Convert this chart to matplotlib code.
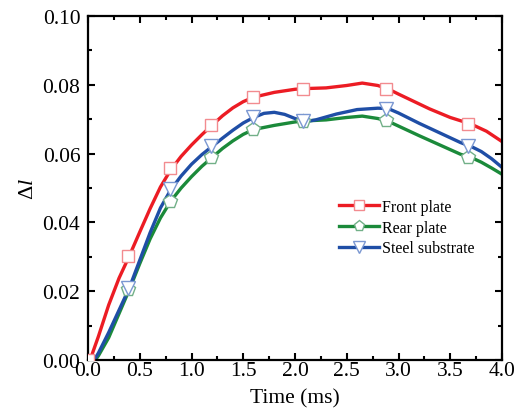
import matplotlib
matplotlib.use('Agg')
import matplotlib.pyplot as plt
from matplotlib.lines import Line2D

plt.rcParams['font.family'] = 'Liberation Serif'
plt.rcParams['mathtext.fontset'] = 'custom'
plt.rcParams['mathtext.rm'] = 'Liberation Serif'
plt.rcParams['mathtext.it'] = 'Liberation Serif:italic'

# curves
front_t = [0.02, 0.1, 0.2, 0.3, 0.4, 0.5, 0.6, 0.7, 0.8, 0.9, 1.0, 1.1, 1.2, 1.3, 1.4, 1.5, 1.6,
           1.8, 2.0, 2.1, 2.3, 2.5, 2.65, 2.8, 2.9, 3.0, 3.3, 3.5, 3.7, 3.85, 4.0]
front_d = [0.0, 0.0068, 0.0160, 0.0238, 0.0303, 0.0372, 0.0440, 0.0503, 0.0553, 0.0592, 0.0625,
           0.0655, 0.0683, 0.0710, 0.0733, 0.0751, 0.0764, 0.0778, 0.0787, 0.0789, 0.0791,
           0.0798, 0.0805, 0.0798, 0.0788, 0.0773, 0.0730, 0.0705, 0.0686, 0.0665, 0.0635]

steel_t = [0.06, 0.1, 0.2, 0.3, 0.4, 0.5, 0.6, 0.7, 0.8, 0.9, 1.0, 1.1, 1.2, 1.3, 1.4, 1.5, 1.6,
           1.7, 1.8, 1.9, 2.0, 2.1, 2.2, 2.4, 2.6, 2.8, 2.9, 3.0, 3.2, 3.4, 3.6, 3.7, 3.8, 3.9, 4.0]
steel_d = [0.0, 0.002, 0.008, 0.0145, 0.021, 0.029, 0.037, 0.0442, 0.0495, 0.0535, 0.0569,
           0.0597, 0.0621, 0.0645, 0.0668, 0.0689, 0.0705, 0.0717, 0.0720, 0.0714, 0.0702,
           0.0693, 0.0698, 0.0715, 0.0728, 0.0732, 0.0731, 0.0718, 0.0688, 0.0660, 0.0632,
           0.0621, 0.0606, 0.0585, 0.056]

rear_t = [0.07, 0.1, 0.2, 0.3, 0.4, 0.5, 0.6, 0.7, 0.8, 0.9, 1.0, 1.1, 1.2, 1.3, 1.4, 1.5, 1.6,
          1.8, 2.0, 2.1, 2.3, 2.5, 2.65, 2.8, 2.9, 3.0, 3.2, 3.4, 3.6, 3.7, 3.8, 3.9, 4.0]
rear_d = [0.0, 0.0012, 0.0065, 0.0135, 0.0205, 0.0280, 0.0352, 0.0413, 0.0462, 0.0500, 0.0533,
          0.0563, 0.0589, 0.0615, 0.0637, 0.0656, 0.0670, 0.0682, 0.0692, 0.0695, 0.0698,
          0.0705, 0.0709, 0.0702, 0.0694, 0.068, 0.0652, 0.0625, 0.0598, 0.0589, 0.0575,
          0.0558, 0.054]

# marker points
front_mt = [0.0, 0.39, 0.79, 1.19, 1.59, 2.08, 2.88, 3.67]
front_md = [0.0, 0.0303, 0.0557, 0.0683, 0.0765, 0.0789, 0.0789, 0.0686]
rear_mt = [0.39, 0.79, 1.19, 1.59, 2.08, 2.88, 3.67]
rear_md = [0.0205, 0.0462, 0.0589, 0.0672, 0.0695, 0.0697, 0.0589]
steel_mt = [0.39, 0.79, 1.19, 1.59, 2.08, 2.88, 3.67]
steel_md = [0.021, 0.0497, 0.0621, 0.0705, 0.0695, 0.0731, 0.0621]

fig = plt.figure(figsize=(5.22, 4.10), dpi=100)
ax = fig.add_axes([88/522, 1-361/410, 414/522, 344/410])

series = [
    ('Front plate', front_t, front_d, front_mt, front_md, '#ec1c24', '#f28b8f', 's', 9),
    ('Rear plate', rear_t, rear_d, rear_mt, rear_md, '#1b8a3a', '#72b088', 'p', 10),
    ('Steel substrate', steel_t, steel_d, steel_mt, steel_md, '#1f4ea6', '#7b98d2', 'v', 10),
]

handles = []
for name, t, d, mt, md, c, ec, m, ms in series:
    ax.plot(t, d, color=c, lw=2.4, zorder=2, solid_joinstyle='round')
for name, t, d, mt, md, c, ec, m, ms in series:
    ax.plot(mt, md, ls='none', marker=m, ms=ms, mfc='white', mec=ec, mew=1.0, zorder=3)
    handles.append(Line2D([], [], color=c, lw=2.4, marker=m, ms=ms - 2, mfc='white',
                          mec=ec, mew=1.0, label=name))

ax.set_xlim(0, 4.0)
ax.set_ylim(0, 0.10)
ax.set_xticks([0.0, 0.5, 1.0, 1.5, 2.0, 2.5, 3.0, 3.5, 4.0])
ax.set_yticks([0.00, 0.02, 0.04, 0.06, 0.08, 0.10])
ax.set_xticks([0.25, 0.75, 1.25, 1.75, 2.25, 2.75, 3.25, 3.75], minor=True)
ax.set_yticks([0.01, 0.03, 0.05, 0.07, 0.09], minor=True)
ax.set_xticklabels(['0.0', '0.5', '1.0', '1.5', '2.0', '2.5', '3.0', '3.5', '4.0'])
ax.set_yticklabels(['0.00', '0.02', '0.04', '0.06', '0.08', '0.10'])
ax.tick_params(which='both', direction='in', top=True, right=True, labelsize=15.5, width=1.5)
ax.tick_params(which='major', length=5)
ax.tick_params(which='minor', length=3)
ax.tick_params(axis='x', which='major', pad=1)
ax.tick_params(axis='y', which='major', pad=5.5)
for s in ax.spines.values():
    s.set_linewidth(1.6)

ax.set_xlabel('Time (ms)', fontsize=15.5, labelpad=6)
ax.set_ylabel(r'$\Delta\mathit{l}$', fontsize=16, labelpad=3)

ax.legend(handles=handles, loc='center left', bbox_to_anchor=(0.607, 0.385), frameon=False,
          fontsize=11.5, handlelength=2.5, handletextpad=0.15, labelspacing=0.3,
          borderaxespad=0, borderpad=0)

fig.savefig('out.png', dpi=100)
